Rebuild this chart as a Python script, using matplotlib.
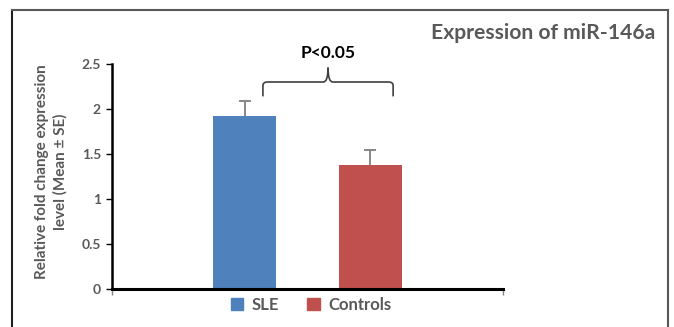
import matplotlib
matplotlib.use("Agg")
import matplotlib.pyplot as plt
from matplotlib.path import Path
from matplotlib.patches import PathPatch, Rectangle
from matplotlib.lines import Line2D

plt.rcParams['font.family'] = ['Lato', 'DejaVu Sans']

series = ["SLE", "Controls"]
means = [1.92, 1.38]
errors = [0.17, 0.16]
colors = ["#4F81BD", "#C0504D"]
yticks = [0, 0.5, 1, 1.5, 2, 2.5]
ytick_labels = ["0", "0.5", "1", "1.5", "2", "2.5"]
title = "Expression of miR-146a"
ylabel = "Relative fold change expression\nlevel (Mean \u00b1 SE)"
ptext = "P<0.05"

W, H = 674, 327
fig = plt.figure(figsize=(W / 100, H / 100), dpi=100)
ax = fig.add_axes([112 / W, 1 - 289 / H, 391 / W, 225 / H])

positions = [0.5 - 0.16, 0.5 + 0.16]
width = 0.161
for x, m, e, c, s in zip(positions, means, errors, colors, series):
    ax.bar(x, m, width=width, color=c, label=s, zorder=2)
    ax.vlines(x, m, m + e, color='#7f7f7f', lw=1.3, zorder=3)
    ax.plot([x], [m + e], marker='_', ms=9, mew=1.3, color='#7f7f7f', zorder=3)

ax.set_xlim(0, 1)
ax.set_ylim(0, 2.5)
ax.set_yticks(yticks)
ax.set_yticklabels(ytick_labels)
ax.set_xticks([0, 1])
ax.set_xticklabels([])
ax.tick_params(axis='y', length=4, width=1, color='black', labelsize=10,
               labelcolor='#595959', pad=4)
ax.tick_params(axis='x', length=4, width=1, color='#808080', direction='out')
for lbl in ax.get_yticklabels():
    lbl.set_fontweight('bold')
for sp in ['top', 'right']:
    ax.spines[sp].set_visible(False)
ax.spines['left'].set_linewidth(1.8)
ax.spines['bottom'].set_linewidth(2.2)

ax.set_ylabel(ylabel, fontsize=11, fontweight='bold', color='#595959',
              linespacing=1.4, labelpad=10)
ax.yaxis.set_label_coords(-44 / 391, 0.52)

# bracket
xl, xr = 0.386, 0.719
xm = (xl + xr) / 2
yb, yh, yt = 2.14, 2.30, 2.46
r = 0.012
verts = [
    (xl, yb), (xl, yh - 0.04), (xl, yh), (xl + r, yh),
    (xm - r, yh), (xm, yh), (xm, yt),
    (xm, yh), (xm + r, yh),
    (xr - r, yh), (xr, yh), (xr, yh - 0.04), (xr, yb),
]
codes = [Path.MOVETO, Path.LINETO, Path.CURVE3, Path.CURVE3,
         Path.LINETO, Path.CURVE3, Path.CURVE3,
         Path.CURVE3, Path.CURVE3,
         Path.LINETO, Path.CURVE3, Path.CURVE3, Path.LINETO]
ax.add_patch(PathPatch(Path(verts, codes), fill=False, edgecolor='#404040',
                       linewidth=1.2, clip_on=False, zorder=4))
ax.text(xm, 2.62, ptext, ha='center', va='center', fontsize=12.5,
        fontweight='bold', color='black', clip_on=False)

# title
fig.text(655 / W, 1 - 33 / H, title, ha='right', va='center', fontsize=15.2,
         fontweight='bold', color='#595959')

# legend
leg = fig.legend(handles=[Rectangle((0, 0), 1, 1, color=c) for c in colors],
                 labels=series, loc='center', bbox_to_anchor=(311 / W, 1 - 305 / H),
                 ncol=2, frameon=False, handlelength=0.75, handleheight=0.75,
                 handletextpad=0.5, columnspacing=1.7,
                 borderpad=0, borderaxespad=0,
                 prop={'size': 12, 'weight': 'bold'})
for t in leg.get_texts():
    t.set_color('#595959')

# outer frame
fig.add_artist(Line2D([12 / W, 12 / W], [0, 1 - 10 / H], color='#202020', lw=1.5))
fig.add_artist(Line2D([12 / W, 668 / W], [1 - 10 / H, 1 - 10 / H], color='#595959', lw=1.5))
fig.add_artist(Line2D([668 / W, 668 / W], [0, 1 - 10 / H], color='#595959', lw=1.5))

fig.savefig("out.png", dpi=100)
